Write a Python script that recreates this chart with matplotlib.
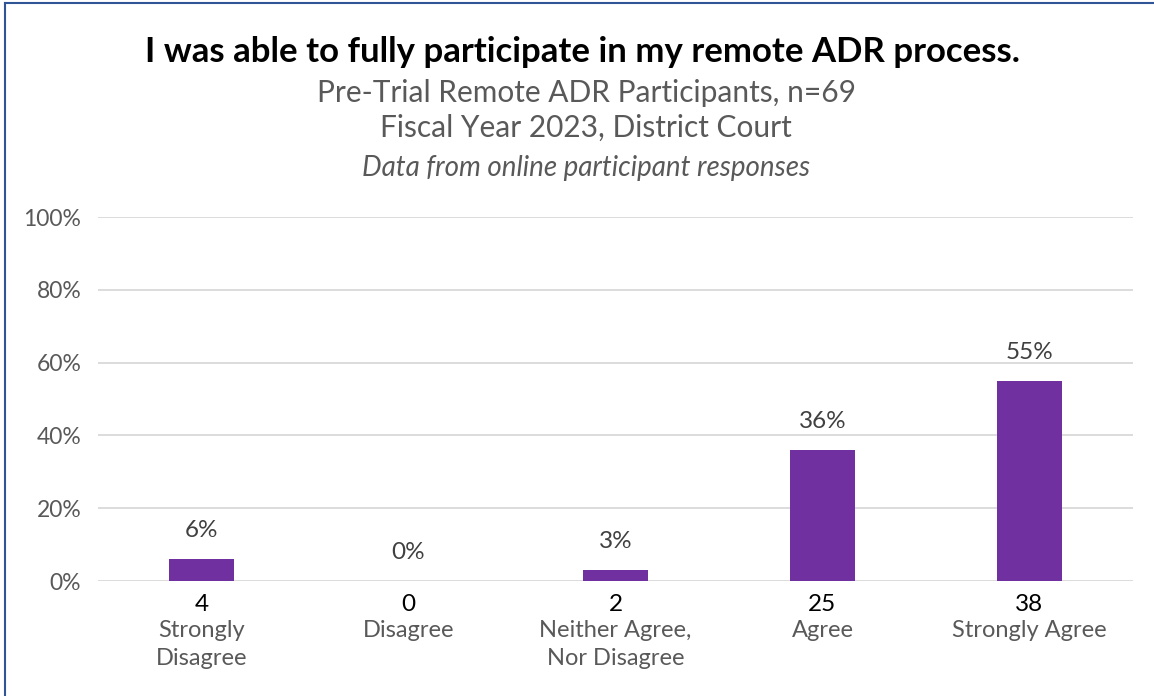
import matplotlib.pyplot as plt
import matplotlib.transforms as mtransforms

categories = ["Strongly\nDisagree", "Disagree", "Neither Agree,\nNor Disagree", "Agree", "Strongly Agree"]
counts = [4, 0, 2, 25, 38]
percents = [6, 0, 3, 36, 55]

plt.rcParams['font.family'] = ['Lato', 'DejaVu Sans']

fig = plt.figure(figsize=(11.54, 6.96), dpi=100)
ax = fig.add_axes([0.0849, 0.1652, 0.8969, 0.523])

x = range(len(categories))
ax.bar(x, percents, width=0.31, color="#7030A0", zorder=3)
ax.set_xlim(-0.5, len(categories) - 0.5)
ax.set_ylim(0, 100)
ax.set_yticks(range(0, 101, 20))
ax.set_yticklabels([f"{v}%" for v in range(0, 101, 20)], fontsize=16.5, color="#595959")
ax.grid(axis="y", color="#d9d9d9", linewidth=1.3, zorder=0)
for s in ax.spines.values():
    s.set_visible(False)
ax.tick_params(axis="both", length=0)
ax.tick_params(axis="y", pad=12)

# counts as tick labels, category names underneath
ax.set_xticks(list(x))
ax.set_xticklabels([str(c) for c in counts], fontsize=17.5, color="black")
ax.tick_params(axis="x", pad=9)
trans = mtransforms.blended_transform_factory(ax.transData, ax.transAxes)
for i, cat in enumerate(categories):
    ax.text(i, -0.108, cat, transform=trans, ha="center", va="top",
            fontsize=17, color="#595959", linespacing=1.42)

for i, p in enumerate(percents):
    ax.text(i, p + 4.9, f"{p}%", ha="center", va="bottom", fontsize=17.5, color="#404040")

fig.text(0.505, 0.925, "I was able to fully participate in my remote ADR process.",
         ha="center", va="center", fontsize=25, fontweight="bold", color="black")
fig.text(0.508, 0.866, "Pre-Trial Remote ADR Participants, n=69",
         ha="center", va="center", fontsize=21.5, color="#595959")
fig.text(0.508, 0.817, "Fiscal Year 2023, District Court",
         ha="center", va="center", fontsize=21.5, color="#595959")
fig.text(0.508, 0.759, "Data from online participant responses",
         ha="center", va="center", fontsize=20, color="#595959", style="italic")

# frame edges on the left and top
fig.add_artist(plt.Line2D([0.0045, 0.0045], [0, 0.995], transform=fig.transFigure,
                          color="#2F5597", linewidth=1.5))
fig.add_artist(plt.Line2D([0.0045, 1], [0.995, 0.995], transform=fig.transFigure,
                          color="#2F5597", linewidth=1.5))

fig.savefig("out.png", dpi=100)
